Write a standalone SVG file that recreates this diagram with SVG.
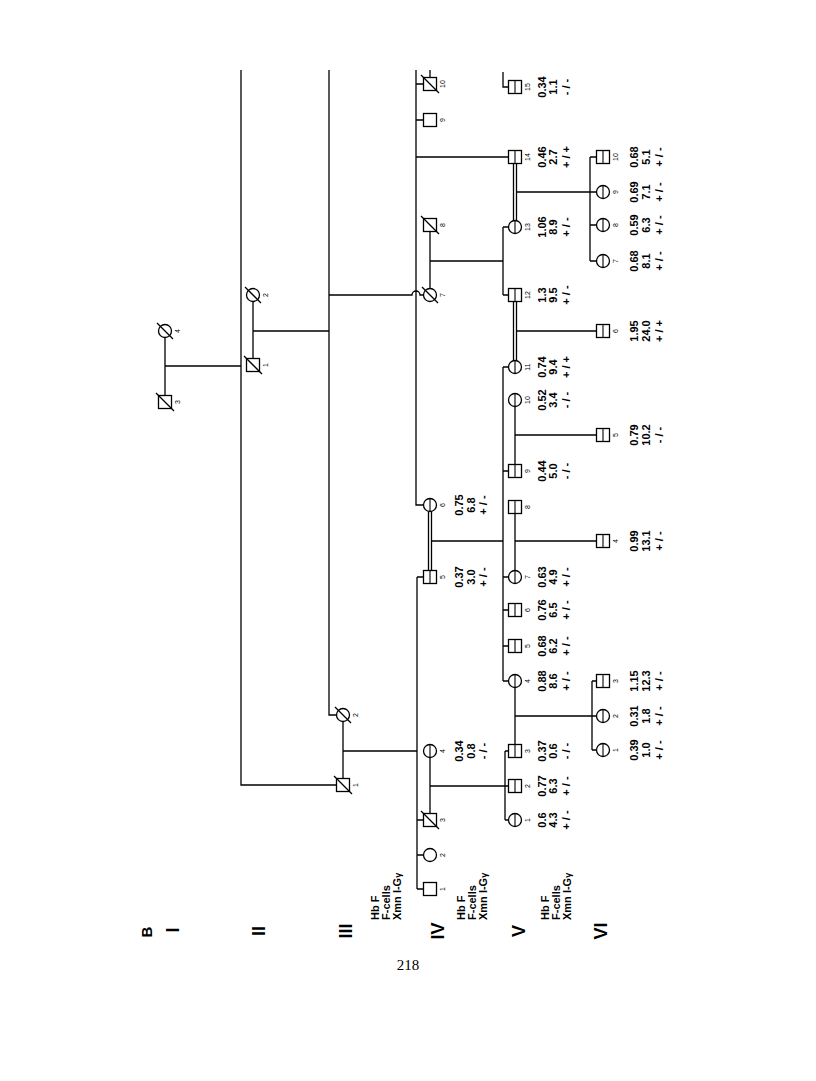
<svg xmlns="http://www.w3.org/2000/svg" width="816" height="1081" viewBox="0 0 816 1081">
<style>
.ln{stroke:#000;stroke-width:1.3;fill:none}
.s{fill:#fff;stroke:#000;stroke-width:1.3}
.dv{stroke:#000;stroke-width:1.1}
.dc{stroke:#000;stroke-width:1.3}
.n{font-family:"Liberation Sans",Arial,sans-serif;font-size:7px;text-anchor:middle}
.d{font-family:"Liberation Sans",Arial,sans-serif;font-size:11px;font-weight:bold;text-anchor:middle}
.h{font-family:"Liberation Sans",Arial,sans-serif;font-size:11px;font-weight:bold;text-anchor:start}
.g{font-family:"Liberation Sans",Arial,sans-serif;font-size:18px;font-weight:bold;text-anchor:middle}
.p{font-family:"Liberation Serif","Times New Roman",serif;font-size:15px;text-anchor:middle}
</style>
<rect width="816" height="1081" fill="#fff"/>
<g id="generation-labels">
<text class="g" style="font-size:15px" transform="translate(152,932) rotate(-90)">B</text>
<text class="g" transform="translate(179,930) rotate(-90)">I</text>
<text class="g" transform="translate(265,931) rotate(-90)">II</text>
<text class="g" transform="translate(352,931) rotate(-90)">III</text>
<text class="g" transform="translate(444,931) rotate(-90)">IV</text>
<text class="g" transform="translate(525,931) rotate(-90)">V</text>
<text class="g" transform="translate(607,931) rotate(-90)">VI</text>
</g>
<g id="row-labels">
<text class="h" transform="translate(379,920) rotate(-90)">Hb F</text>
<text class="h" transform="translate(390,920) rotate(-90)">F-cells</text>
<text class="h" transform="translate(401,920) rotate(-90)">Xmn I-G<tspan font-size="9">γ</tspan></text>
<text class="h" transform="translate(465,920) rotate(-90)">Hb F</text>
<text class="h" transform="translate(476,920) rotate(-90)">F-cells</text>
<text class="h" transform="translate(487,920) rotate(-90)">Xmn I-G<tspan font-size="9">γ</tspan></text>
<text class="h" transform="translate(549,920) rotate(-90)">Hb F</text>
<text class="h" transform="translate(560,920) rotate(-90)">F-cells</text>
<text class="h" transform="translate(571,920) rotate(-90)">Xmn I-G<tspan font-size="9">γ</tspan></text>
</g>
<g id="connectors" class="ln">
<path d="M165,337.5V395.5M165,366H241"/>
<path d="M241,70V785H336.5"/>
<path d="M253,301.5V358.5M253,331H329"/>
<path d="M329,70V715H336.5"/>
<path d="M329,295H412A4,4 0 0 1 420,295H423.5"/>
<path d="M343,721.5V778.5M343,751H417"/>
<path d="M417,577V889M417,577H423.5M417,820H423.5M417,855H423.5M417,889H423.5"/>
<path d="M416,70V505H423.5M416,84H423.5M416,120H423.5M416,157H508.5"/>
<path d="M430,70V77.5"/>
<path d="M430,231.5V288.5M430,261H503M503,227V295M503,227H508.5M503,295H508.5"/>
<path d="M430,757.5V813.5M430,786H508.5M505,751V820M505,751H508.5M505,820H508.5"/>
<path d="M428.5,511.5V570.5M431.5,511.5V570.5M431.5,541H503"/>
<path d="M503,367V681M503,367H508.5M503,471H508.5M503,577H508.5M503,610H508.5M503,646H508.5M503,681H508.5"/>
<path d="M515,687.5V744.5M515,716H592M592,681V750M592,681H596.5M592,716H596.5M592,750H596.5"/>
<path d="M515,513.5V570.5M515,541H596.5"/>
<path d="M515,406.5V464.5M515,435H596.5"/>
<path d="M513.5,301.5V360.5M516.5,301.5V360.5M516.5,331H596.5"/>
<path d="M513.5,163.5V220.5M516.5,163.5V220.5M516.5,192H590M590,157V261M590,157H596.5M590,192H596.5M590,225H596.5M590,261H596.5"/>
<path d="M503,72V87H508.5"/>
</g>
<!-- Generation I -->
<g id="I-3"><rect class="s" x="158.5" y="395.5" width="13" height="13"/><line class="dc" x1="156" y1="393" x2="174" y2="411"/><text class="n" transform="translate(180,402) rotate(-90)">3</text></g>
<g id="I-4"><circle class="s" cx="165" cy="331" r="6.5"/><line class="dc" x1="157" y1="323" x2="173" y2="339"/><text class="n" transform="translate(180,331) rotate(-90)">4</text></g>
<!-- Generation II -->
<g id="II-1"><rect class="s" x="246.5" y="358.5" width="13" height="13"/><line class="dc" x1="244" y1="356" x2="262" y2="374"/><text class="n" transform="translate(268,365) rotate(-90)">1</text></g>
<g id="II-2"><circle class="s" cx="253" cy="295" r="6.5"/><line class="dc" x1="245" y1="287" x2="261" y2="303"/><text class="n" transform="translate(268,295) rotate(-90)">2</text></g>
<!-- Generation III -->
<g id="III-1"><rect class="s" x="336.5" y="778.5" width="13" height="13"/><line class="dc" x1="334" y1="776" x2="352" y2="794"/><text class="n" transform="translate(358,785) rotate(-90)">1</text></g>
<g id="III-2"><circle class="s" cx="343" cy="715" r="6.5"/><line class="dc" x1="335" y1="707" x2="351" y2="723"/><text class="n" transform="translate(358,715) rotate(-90)">2</text></g>
<!-- Generation IV -->
<g id="IV-1"><rect class="s" x="423.5" y="882.5" width="13" height="13"/><text class="n" transform="translate(445,889) rotate(-90)">1</text></g>
<g id="IV-2"><circle class="s" cx="430" cy="855" r="6.5"/><text class="n" transform="translate(445,855) rotate(-90)">2</text></g>
<g id="IV-3"><rect class="s" x="423.5" y="813.5" width="13" height="13"/><line class="dc" x1="421" y1="811" x2="439" y2="829"/><text class="n" transform="translate(445,820) rotate(-90)">3</text></g>
<g id="IV-4"><circle class="s" cx="430" cy="751" r="6.5"/><line class="dv" x1="430" y1="744.5" x2="430" y2="757.5"/><text class="n" transform="translate(445,751) rotate(-90)">4</text>
<text class="d" transform="translate(463,751) rotate(-90)">0.34</text><text class="d" transform="translate(475,751) rotate(-90)">0.8</text><text class="d" transform="translate(487,751) rotate(-90)">- / -</text></g>
<g id="IV-5"><rect class="s" x="423.5" y="570.5" width="13" height="13"/><line class="dv" x1="430" y1="570.5" x2="430" y2="583.5"/><text class="n" transform="translate(445,577) rotate(-90)">5</text>
<text class="d" transform="translate(463,577) rotate(-90)">0.37</text><text class="d" transform="translate(475,577) rotate(-90)">3.0</text><text class="d" transform="translate(487,577) rotate(-90)">+ / -</text></g>
<g id="IV-6"><circle class="s" cx="430" cy="505" r="6.5"/><line class="dv" x1="430" y1="498.5" x2="430" y2="511.5"/><text class="n" transform="translate(445,505) rotate(-90)">6</text>
<text class="d" transform="translate(463,505) rotate(-90)">0.75</text><text class="d" transform="translate(475,505) rotate(-90)">6.8</text><text class="d" transform="translate(487,505) rotate(-90)">+ / -</text></g>
<g id="IV-7"><circle class="s" cx="430" cy="295" r="6.5"/><line class="dc" x1="422" y1="287" x2="438" y2="303"/><text class="n" transform="translate(445,295) rotate(-90)">7</text></g>
<g id="IV-8"><rect class="s" x="423.5" y="218.5" width="13" height="13"/><line class="dc" x1="421" y1="216" x2="439" y2="234"/><text class="n" transform="translate(445,225) rotate(-90)">8</text></g>
<g id="IV-9"><rect class="s" x="423.5" y="113.5" width="13" height="13"/><text class="n" transform="translate(445,120) rotate(-90)">9</text></g>
<g id="IV-10"><rect class="s" x="423.5" y="77.5" width="13" height="13"/><line class="dc" x1="421" y1="75" x2="439" y2="93"/><text class="n" transform="translate(445,84) rotate(-90)">10</text></g>
<!-- Generation V -->
<g id="V-1"><circle class="s" cx="515" cy="820" r="6.5"/><line class="dv" x1="515" y1="813.5" x2="515" y2="826.5"/><text class="n" transform="translate(530,820) rotate(-90)">1</text>
<text class="d" transform="translate(546,820) rotate(-90)">0.6</text><text class="d" transform="translate(557,820) rotate(-90)">4.3</text><text class="d" transform="translate(570,820) rotate(-90)">+ / -</text></g>
<g id="V-2"><rect class="s" x="508.5" y="779.5" width="13" height="13"/><line class="dv" x1="515" y1="779.5" x2="515" y2="792.5"/><text class="n" transform="translate(530,786) rotate(-90)">2</text>
<text class="d" transform="translate(546,786) rotate(-90)">0.77</text><text class="d" transform="translate(557,786) rotate(-90)">6.3</text><text class="d" transform="translate(570,786) rotate(-90)">+ / -</text></g>
<g id="V-3"><rect class="s" x="508.5" y="744.5" width="13" height="13"/><line class="dv" x1="515" y1="744.5" x2="515" y2="757.5"/><text class="n" transform="translate(530,751) rotate(-90)">3</text>
<text class="d" transform="translate(546,751) rotate(-90)">0.37</text><text class="d" transform="translate(557,751) rotate(-90)">0.6</text><text class="d" transform="translate(570,751) rotate(-90)">- / -</text></g>
<g id="V-4"><circle class="s" cx="515" cy="681" r="6.5"/><line class="dv" x1="515" y1="674.5" x2="515" y2="687.5"/><text class="n" transform="translate(530,681) rotate(-90)">4</text>
<text class="d" transform="translate(546,681) rotate(-90)">0.88</text><text class="d" transform="translate(557,681) rotate(-90)">8.6</text><text class="d" transform="translate(570,681) rotate(-90)">+ / -</text></g>
<g id="V-5"><rect class="s" x="508.5" y="639.5" width="13" height="13"/><line class="dv" x1="515" y1="639.5" x2="515" y2="652.5"/><text class="n" transform="translate(530,646) rotate(-90)">5</text>
<text class="d" transform="translate(546,646) rotate(-90)">0.68</text><text class="d" transform="translate(557,646) rotate(-90)">6.2</text><text class="d" transform="translate(570,646) rotate(-90)">+ / -</text></g>
<g id="V-6"><rect class="s" x="508.5" y="603.5" width="13" height="13"/><line class="dv" x1="515" y1="603.5" x2="515" y2="616.5"/><text class="n" transform="translate(530,610) rotate(-90)">6</text>
<text class="d" transform="translate(546,610) rotate(-90)">0.76</text><text class="d" transform="translate(557,610) rotate(-90)">6.5</text><text class="d" transform="translate(570,610) rotate(-90)">+ / -</text></g>
<g id="V-7"><circle class="s" cx="515" cy="577" r="6.5"/><line class="dv" x1="515" y1="570.5" x2="515" y2="583.5"/><text class="n" transform="translate(530,577) rotate(-90)">7</text>
<text class="d" transform="translate(546,577) rotate(-90)">0.63</text><text class="d" transform="translate(557,577) rotate(-90)">4.9</text><text class="d" transform="translate(570,577) rotate(-90)">+ / -</text></g>
<g id="V-8"><rect class="s" x="508.5" y="500.5" width="13" height="13"/><line class="dv" x1="515" y1="500.5" x2="515" y2="513.5"/><text class="n" transform="translate(530,507) rotate(-90)">8</text></g>
<g id="V-9"><rect class="s" x="508.5" y="464.5" width="13" height="13"/><line class="dv" x1="515" y1="464.5" x2="515" y2="477.5"/><text class="n" transform="translate(530,471) rotate(-90)">9</text>
<text class="d" transform="translate(546,471) rotate(-90)">0.44</text><text class="d" transform="translate(557,471) rotate(-90)">5.0</text><text class="d" transform="translate(570,471) rotate(-90)">- / -</text></g>
<g id="V-10"><circle class="s" cx="515" cy="400" r="6.5"/><line class="dv" x1="515" y1="393.5" x2="515" y2="406.5"/><text class="n" transform="translate(530,400) rotate(-90)">10</text>
<text class="d" transform="translate(546,400) rotate(-90)">0.52</text><text class="d" transform="translate(557,400) rotate(-90)">3.4</text><text class="d" transform="translate(570,400) rotate(-90)">- / -</text></g>
<g id="V-11"><circle class="s" cx="515" cy="367" r="6.5"/><line class="dv" x1="515" y1="360.5" x2="515" y2="373.5"/><text class="n" transform="translate(530,367) rotate(-90)">11</text>
<text class="d" transform="translate(546,367) rotate(-90)">0.74</text><text class="d" transform="translate(557,367) rotate(-90)">9.4</text><text class="d" transform="translate(570,367) rotate(-90)">+ / +</text></g>
<g id="V-12"><rect class="s" x="508.5" y="288.5" width="13" height="13"/><line class="dv" x1="515" y1="288.5" x2="515" y2="301.5"/><text class="n" transform="translate(530,295) rotate(-90)">12</text>
<text class="d" transform="translate(546,295) rotate(-90)">1.3</text><text class="d" transform="translate(557,295) rotate(-90)">9.5</text><text class="d" transform="translate(570,295) rotate(-90)">+ / -</text></g>
<g id="V-13"><circle class="s" cx="515" cy="227" r="6.5"/><line class="dv" x1="515" y1="220.5" x2="515" y2="233.5"/><text class="n" transform="translate(530,227) rotate(-90)">13</text>
<text class="d" transform="translate(546,227) rotate(-90)">1.06</text><text class="d" transform="translate(557,227) rotate(-90)">8.9</text><text class="d" transform="translate(570,227) rotate(-90)">+ / -</text></g>
<g id="V-14"><rect class="s" x="508.5" y="150.5" width="13" height="13"/><line class="dv" x1="515" y1="150.5" x2="515" y2="163.5"/><text class="n" transform="translate(530,157) rotate(-90)">14</text>
<text class="d" transform="translate(546,157) rotate(-90)">0.46</text><text class="d" transform="translate(557,157) rotate(-90)">2.7</text><text class="d" transform="translate(570,157) rotate(-90)">+ / +</text></g>
<g id="V-15"><rect class="s" x="508.5" y="80.5" width="13" height="13"/><line class="dv" x1="515" y1="80.5" x2="515" y2="93.5"/><text class="n" transform="translate(530,87) rotate(-90)">15</text>
<text class="d" transform="translate(546,87) rotate(-90)">0.34</text><text class="d" transform="translate(557,87) rotate(-90)">1.1</text><text class="d" transform="translate(570,87) rotate(-90)">- / -</text></g>
<!-- Generation VI -->
<g id="VI-1"><circle class="s" cx="603" cy="750" r="6.5"/><line class="dv" x1="603" y1="743.5" x2="603" y2="756.5"/><text class="n" transform="translate(618,750) rotate(-90)">1</text>
<text class="d" transform="translate(638,750) rotate(-90)">0.39</text><text class="d" transform="translate(650,750) rotate(-90)">1.0</text><text class="d" transform="translate(663,750) rotate(-90)">+ / -</text></g>
<g id="VI-2"><circle class="s" cx="603" cy="716" r="6.5"/><line class="dv" x1="603" y1="709.5" x2="603" y2="722.5"/><text class="n" transform="translate(618,716) rotate(-90)">2</text>
<text class="d" transform="translate(638,716) rotate(-90)">0.31</text><text class="d" transform="translate(650,716) rotate(-90)">1.8</text><text class="d" transform="translate(663,716) rotate(-90)">+ / -</text></g>
<g id="VI-3"><rect class="s" x="596.5" y="674.5" width="13" height="13"/><line class="dv" x1="603" y1="674.5" x2="603" y2="687.5"/><text class="n" transform="translate(618,681) rotate(-90)">3</text>
<text class="d" transform="translate(638,681) rotate(-90)">1.15</text><text class="d" transform="translate(650,681) rotate(-90)">12.3</text><text class="d" transform="translate(663,681) rotate(-90)">+ / -</text></g>
<g id="VI-4"><rect class="s" x="596.5" y="534.5" width="13" height="13"/><line class="dv" x1="603" y1="534.5" x2="603" y2="547.5"/><text class="n" transform="translate(618,541) rotate(-90)">4</text>
<text class="d" transform="translate(638,541) rotate(-90)">0.99</text><text class="d" transform="translate(650,541) rotate(-90)">13.1</text><text class="d" transform="translate(663,541) rotate(-90)">+ / -</text></g>
<g id="VI-5"><rect class="s" x="596.5" y="428.5" width="13" height="13"/><line class="dv" x1="603" y1="428.5" x2="603" y2="441.5"/><text class="n" transform="translate(618,435) rotate(-90)">5</text>
<text class="d" transform="translate(638,435) rotate(-90)">0.79</text><text class="d" transform="translate(650,435) rotate(-90)">10.2</text><text class="d" transform="translate(663,435) rotate(-90)">- / -</text></g>
<g id="VI-6"><rect class="s" x="596.5" y="324.5" width="13" height="13"/><line class="dv" x1="603" y1="324.5" x2="603" y2="337.5"/><text class="n" transform="translate(618,331) rotate(-90)">6</text>
<text class="d" transform="translate(638,331) rotate(-90)">1.95</text><text class="d" transform="translate(650,331) rotate(-90)">24.0</text><text class="d" transform="translate(663,331) rotate(-90)">+ / +</text></g>
<g id="VI-7"><circle class="s" cx="603" cy="261" r="6.5"/><line class="dv" x1="603" y1="254.5" x2="603" y2="267.5"/><text class="n" transform="translate(618,261) rotate(-90)">7</text>
<text class="d" transform="translate(638,261) rotate(-90)">0.68</text><text class="d" transform="translate(650,261) rotate(-90)">8.1</text><text class="d" transform="translate(663,261) rotate(-90)">+ / -</text></g>
<g id="VI-8"><circle class="s" cx="603" cy="225" r="6.5"/><line class="dv" x1="603" y1="218.5" x2="603" y2="231.5"/><text class="n" transform="translate(618,225) rotate(-90)">8</text>
<text class="d" transform="translate(638,225) rotate(-90)">0.59</text><text class="d" transform="translate(650,225) rotate(-90)">6.3</text><text class="d" transform="translate(663,225) rotate(-90)">+ / -</text></g>
<g id="VI-9"><circle class="s" cx="603" cy="192" r="6.5"/><line class="dv" x1="603" y1="185.5" x2="603" y2="198.5"/><text class="n" transform="translate(618,192) rotate(-90)">9</text>
<text class="d" transform="translate(638,192) rotate(-90)">0.69</text><text class="d" transform="translate(650,192) rotate(-90)">7.1</text><text class="d" transform="translate(663,192) rotate(-90)">+ / -</text></g>
<g id="VI-10"><rect class="s" x="596.5" y="150.5" width="13" height="13"/><line class="dv" x1="603" y1="150.5" x2="603" y2="163.5"/><text class="n" transform="translate(618,157) rotate(-90)">10</text>
<text class="d" transform="translate(638,157) rotate(-90)">0.68</text><text class="d" transform="translate(650,157) rotate(-90)">5.1</text><text class="d" transform="translate(663,157) rotate(-90)">+ / -</text></g>
<text class="p" x="408" y="970">218</text>
</svg>
